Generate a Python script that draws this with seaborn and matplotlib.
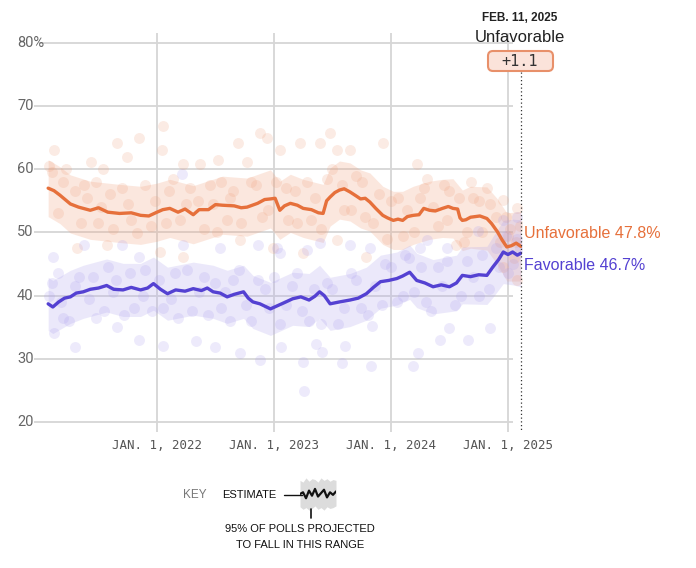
import matplotlib
matplotlib.use("Agg")
import matplotlib.pyplot as plt
import seaborn as sns
from matplotlib.patches import FancyBboxPatch
from matplotlib.lines import Line2D
from matplotlib.transforms import IdentityTransform, blended_transform_factory

# ---------------- data (decimal years, percent) ----------------
unfav_t = [2021.07, 2021.12, 2021.17, 2021.26, 2021.33, 2021.43, 2021.50, 2021.58, 2021.68, 2021.78,
           2021.86, 2021.93, 2022.00, 2022.05, 2022.11, 2022.18, 2022.24, 2022.31, 2022.36, 2022.44,
           2022.50, 2022.56, 2022.66, 2022.72, 2022.77, 2022.86, 2022.92, 2022.97, 2023.01, 2023.05,
           2023.09, 2023.14, 2023.20, 2023.25, 2023.32, 2023.38, 2023.42, 2023.45, 2023.48, 2023.52,
           2023.56, 2023.60, 2023.65, 2023.70, 2023.74, 2023.78, 2023.82, 2023.87, 2023.93, 2023.97,
           2024.02, 2024.06, 2024.10, 2024.14, 2024.19, 2024.24, 2024.28, 2024.33, 2024.38, 2024.44,
           2024.49, 2024.53, 2024.57, 2024.59, 2024.61, 2024.64, 2024.68, 2024.72, 2024.76, 2024.82,
           2024.86, 2024.91, 2024.95, 2024.99, 2025.03, 2025.07, 2025.11]
unfav = [57.0, 56.6, 55.9, 54.5, 54.0, 53.5, 53.9, 53.2, 53.0, 53.1,
         52.7, 52.6, 53.2, 53.6, 53.8, 53.2, 53.7, 52.8, 53.6, 53.6,
         54.4, 54.3, 54.2, 53.9, 54.0, 54.6, 55.2, 55.3, 55.4, 53.5,
         54.2, 54.6, 54.3, 53.8, 53.6, 53.1, 53.0, 55.0, 55.6, 56.3,
         56.7, 56.9, 56.4, 55.8, 55.3, 55.4, 54.8, 53.8, 52.7, 52.3,
         51.9, 52.1, 51.9, 52.5, 52.7, 52.8, 53.8, 53.5, 53.4, 53.8,
         54.1, 53.8, 53.7, 52.3, 51.9, 52.0, 52.4, 52.5, 52.6, 52.2,
         51.4, 50.1, 48.8, 47.7, 47.9, 48.3, 47.8]

unfav_band_t = [2021.07, 2021.17, 2021.26, 2021.43, 2021.68, 2021.86, 2022.00, 2022.11, 2022.31, 2022.56,
                2022.77, 2022.97, 2023.05, 2023.14, 2023.25, 2023.42, 2023.48, 2023.56, 2023.65, 2023.74,
                2023.82, 2023.93, 2024.02, 2024.10, 2024.19, 2024.33, 2024.44, 2024.53, 2024.61, 2024.68,
                2024.82, 2024.91, 2024.99, 2025.11]
unfav_band_lo = [52.5, 51.4, 49.9, 48.9, 48.4, 48.1, 48.6, 49.2, 48.2, 49.7,
                 49.4, 50.7, 48.9, 50.0, 49.2, 48.4, 51.0, 52.1, 51.8, 50.7,
                 50.2, 48.1, 47.3, 47.3, 48.1, 48.9, 49.2, 49.1, 47.1, 47.5,
                 47.2, 44.9, 42.3, 42.3]
unfav_band_hi = [61.5, 60.4, 59.1, 58.1, 57.6, 57.3, 57.8, 58.4, 57.4, 58.9,
                 58.6, 59.9, 58.1, 59.2, 58.4, 57.6, 60.2, 61.3, 61.0, 59.9,
                 59.4, 57.3, 56.5, 56.5, 57.3, 58.1, 58.4, 58.5, 56.7, 57.3,
                 57.2, 55.3, 53.1, 53.3]

fav_t = [2021.07, 2021.11, 2021.16, 2021.21, 2021.26, 2021.31, 2021.37, 2021.43, 2021.50, 2021.57,
         2021.63, 2021.71, 2021.78, 2021.86, 2021.92, 2021.97, 2022.03, 2022.09, 2022.16, 2022.24,
         2022.31, 2022.38, 2022.43, 2022.48, 2022.54, 2022.60, 2022.66, 2022.74, 2022.78, 2022.82,
         2022.88, 2022.97, 2023.03, 2023.09, 2023.16, 2023.23, 2023.30, 2023.35, 2023.39, 2023.43,
         2023.48, 2023.56, 2023.65, 2023.72, 2023.79, 2023.85, 2023.91, 2023.98, 2024.05, 2024.10,
         2024.16, 2024.22, 2024.29, 2024.36, 2024.43, 2024.50, 2024.56, 2024.61, 2024.68, 2024.75,
         2024.82, 2024.87, 2024.92, 2024.96, 2025.00, 2025.04, 2025.08, 2025.11]
fav = [38.7, 38.2, 39.0, 39.6, 39.8, 40.4, 40.6, 41.0, 41.2, 41.6,
       41.0, 40.9, 41.3, 40.9, 41.2, 41.9, 41.0, 40.3, 40.9, 40.7,
       41.1, 40.8, 41.2, 40.6, 40.4, 39.8, 40.2, 40.6, 39.6, 39.0,
       38.7, 37.9, 38.4, 38.9, 39.5, 39.8, 39.3, 39.9, 40.6, 40.0,
       38.7, 39.0, 39.3, 39.6, 40.3, 41.3, 42.2, 42.4, 42.7, 43.1,
       43.7, 42.4, 42.0, 41.4, 41.7, 41.4, 42.0, 43.2, 43.0, 43.3,
       43.2, 44.5, 45.7, 46.9, 46.5, 46.9, 46.4, 46.7]

fav_band_t = [2021.07, 2021.11, 2021.26, 2021.37, 2021.57, 2021.71, 2021.86, 2021.97, 2022.09, 2022.31,
              2022.48, 2022.60, 2022.74, 2022.82, 2022.97, 2023.16, 2023.30, 2023.39, 2023.48, 2023.65,
              2023.79, 2023.91, 2024.05, 2024.16, 2024.22, 2024.36, 2024.56, 2024.61, 2024.82, 2024.87,
              2024.96, 2025.04, 2025.11]
fav_band_lo = [34.5, 34.0, 35.6, 36.4, 37.4, 36.7, 36.7, 37.7, 36.1, 36.9,
               36.4, 35.6, 36.4, 34.8, 33.7, 35.3, 35.1, 36.4, 34.5, 35.1,
               36.1, 38.0, 38.5, 39.4, 38.1, 37.1, 37.6, 38.7, 38.6, 39.7,
               41.9, 41.7, 41.4]
fav_band_hi = [42.9, 42.4, 44.0, 44.8, 45.8, 45.1, 45.1, 46.1, 44.5, 45.3,
               44.8, 44.0, 44.8, 43.2, 42.1, 43.7, 43.5, 44.8, 42.9, 43.5,
               44.5, 46.4, 46.9, 48.0, 46.7, 45.7, 46.4, 47.7, 47.8, 49.3,
               51.9, 52.1, 52.0]

unfav_poll_t = [2021.12, 2021.44, 2021.54, 2021.66, 2021.74, 2021.85, 2022.05, 2022.04, 2022.22, 2022.37,
                2022.52, 2022.69, 2022.88, 2022.94, 2022.77, 2021.32, 2021.57, 2021.83, 2022.22, 2022.71,
                2022.99, 2022.51, 2022.03, 2023.48, 2023.22, 2023.39, 2023.54, 2023.65, 2023.93, 2023.05,
                2024.22, 2024.31, 2024.68, 2024.82, 2024.96, 2025.08, 2023.54, 2023.79, 2023.25, 2024.56,
                2024.96, 2025.08,
                2021.10, 2021.20, 2021.30, 2021.40, 2021.50, 2021.60, 2021.75, 2021.95, 2022.10, 2022.20,
                2022.35, 2022.45, 2022.60, 2022.65, 2022.85, 2022.90, 2023.10, 2023.20, 2023.35, 2023.45,
                2023.60, 2023.70, 2023.85, 2024.00, 2024.10, 2024.25, 2024.40, 2024.50, 2024.65, 2024.75,
                2024.90, 2025.00, 2025.05,
                2021.08, 2021.15, 2021.22, 2021.35, 2021.38, 2021.48, 2021.52, 2021.62, 2021.70, 2021.78,
                2021.90, 2021.98, 2022.08, 2022.14, 2022.25, 2022.28, 2022.40, 2022.48, 2022.55, 2022.62,
                2022.72, 2022.80, 2022.95, 2023.02, 2023.12, 2023.18, 2023.28, 2023.32, 2023.40, 2023.50,
                2023.58, 2023.66, 2023.75, 2023.78, 2023.90, 2023.97, 2024.06, 2024.14, 2024.20, 2024.28,
                2024.36, 2024.45, 2024.48, 2024.58, 2024.62, 2024.70, 2024.78, 2024.85, 2024.93, 2024.98,
                2025.02, 2025.07, 2025.10]
unfav_poll_v = [63.0, 61.1, 60.0, 64.1, 61.9, 64.9, 66.9, 63.0, 60.9, 60.9,
                61.4, 64.1, 65.8, 65.0, 61.1, 47.6, 48.0, 49.9, 46.1, 48.8,
                47.6, 50.0, 46.9, 65.8, 64.1, 64.1, 63.0, 63.0, 64.1, 63.0,
                60.9, 58.5, 57.9, 57.0, 55.1, 53.8, 48.8, 46.1, 46.7, 48.0,
                44.5, 42.4,
                59.5, 58.0, 56.5, 55.5, 51.5, 56.0, 54.5, 51.0, 56.5, 52.0,
                55.0, 57.5, 52.0, 56.5, 57.5, 52.5, 57.0, 51.5, 55.5, 58.5,
                53.5, 59.0, 51.5, 55.0, 49.5, 55.5, 51.0, 56.5, 50.0, 55.0,
                52.5, 49.5, 46.0,
                60.5, 53.0, 60.0, 51.5, 57.5, 58.0, 54.0, 50.5, 57.0, 52.0,
                57.5, 55.0, 51.5, 58.5, 54.5, 57.0, 50.5, 54.5, 58.0, 55.5,
                51.5, 58.0, 53.5, 58.0, 52.0, 56.5, 58.0, 52.0, 50.5, 60.0,
                57.5, 53.5, 58.0, 52.5, 56.0, 49.0, 55.5, 53.5, 50.0, 57.0,
                54.0, 57.5, 52.0, 55.5, 48.5, 55.5, 50.0, 54.5, 48.5, 52.5,
                50.5, 48.5, 51.0]

fav_poll_t = [2021.11, 2021.38, 2021.70, 2021.85, 2022.21, 2022.22, 2022.54, 2022.86, 2023.03, 2023.05,
              2023.28, 2023.39, 2023.65, 2023.82, 2024.25, 2024.31, 2024.48, 2024.74, 2024.96, 2025.08,
              2021.12, 2021.30, 2021.66, 2021.85, 2022.05, 2022.33, 2022.50, 2022.71, 2022.88, 2023.06,
              2023.25, 2023.26, 2023.36, 2023.41, 2023.58, 2023.61, 2023.83, 2023.84, 2024.19, 2024.23,
              2024.42, 2024.66, 2024.85, 2024.50,
              2021.10, 2021.20, 2021.30, 2021.45, 2021.55, 2021.65, 2021.80, 2021.90, 2022.05, 2022.15,
              2022.30, 2022.40, 2022.55, 2022.65, 2022.80, 2022.92, 2023.05, 2023.15, 2023.30, 2023.45,
              2023.55, 2023.70, 2023.80, 2023.95, 2024.05, 2024.15, 2024.30, 2024.40, 2024.55, 2024.65,
              2024.75, 2024.90, 2025.00, 2025.08,
              2021.08, 2021.15, 2021.18, 2021.25, 2021.33, 2021.42, 2021.48, 2021.58, 2021.62, 2021.72,
              2021.77, 2021.88, 2021.96, 2022.02, 2022.12, 2022.18, 2022.26, 2022.36, 2022.44, 2022.50,
              2022.58, 2022.62, 2022.70, 2022.76, 2022.86, 2022.96, 2023.00, 2023.10, 2023.20, 2023.24,
              2023.34, 2023.40, 2023.50, 2023.60, 2023.66, 2023.74, 2023.86, 2023.92, 2024.00, 2024.10,
              2024.12, 2024.20, 2024.26, 2024.34, 2024.44, 2024.48, 2024.60, 2024.70, 2024.78, 2024.84,
              2024.92, 2024.98, 2025.04, 2025.10]
fav_poll_v = [46.1, 48.0, 48.0, 46.1, 59.3, 48.0, 47.6, 48.0, 47.6, 46.7,
              47.2, 48.3, 48.0, 47.6, 47.6, 48.8, 47.6, 50.3, 51.9, 52.4,
              34.1, 31.8, 35.0, 33.0, 32.0, 32.8, 31.8, 30.9, 29.8, 31.8,
              29.5, 24.9, 32.3, 31.1, 29.3, 32.0, 28.8, 35.2, 28.8, 30.9,
              33.0, 33.0, 34.9, 34.9,
              42.0, 36.5, 41.5, 43.0, 37.5, 42.5, 38.0, 44.0, 38.0, 43.5,
              37.5, 43.0, 38.0, 42.5, 36.0, 41.0, 35.5, 41.5, 36.0, 42.0,
              35.5, 42.5, 37.0, 45.0, 39.0, 46.0, 39.0, 44.5, 38.5, 45.5,
              40.0, 47.5, 43.5, 49.0,
              40.0, 43.5, 39.0, 36.0, 43.0, 39.5, 36.5, 44.5, 40.5, 37.0,
              43.5, 40.0, 37.5, 42.5, 39.5, 36.5, 44.0, 40.5, 37.0, 42.0,
              40.5, 36.0, 44.0, 38.5, 42.5, 38.0, 43.0, 38.5, 43.5, 37.5,
              41.0, 35.5, 41.0, 38.0, 43.5, 38.0, 41.5, 38.5, 44.5, 40.0,
              46.5, 40.5, 44.5, 37.5, 41.5, 45.5, 40.0, 43.0, 46.5, 41.0,
              44.5, 49.5, 45.0, 47.5]

y_ticks = [20, 30, 40, 50, 60, 70, 80]
y_labels = ["20", "30", "40", "50", "60", "70", "80%"]
x_ticks = [2022, 2023, 2024, 2025]
x_labels = ["JAN. 1, 2022", "JAN. 1, 2023", "JAN. 1, 2024", "JAN. 1, 2025"]

key_x = [0, 1, 2, 3, 4, 5, 6, 7, 8, 9, 10, 11, 12]
key_mid = [0.0, 0.1, -0.25, 0.2, -0.1, 0.3, -0.15, 0.05, 0.25, -0.2, 0.1, -0.05, 0.15]
key_lo = [-0.75, -0.9, -0.8, -0.95, -0.85, -0.7, -0.9, -0.8, -0.95, -0.75, -0.85, -0.8, -0.7]
key_hi = [0.8, 0.7, 0.95, 0.75, 0.9, 0.85, 0.7, 0.95, 0.8, 0.9, 0.75, 0.85, 0.8]

ORANGE = "#E6703B"
PURPLE = "#5441D2"

# ---------------- figure ----------------
sns.set_theme(style="white")
plt.rcParams['font.family'] = ['Liberation Sans', 'DejaVu Sans']

W, H = 696, 568
fig = plt.figure(figsize=(W / 100, H / 100), dpi=100)
ax = fig.add_axes([34 / W, 1 - 432 / H, (522 - 34) / W, (432 - 33) / H])
ax.set_xlim(2020.949, 2025.120)
ax.set_ylim(18.42, 81.55)
for s in ax.spines.values():
    s.set_visible(False)

# grid
for v in y_ticks:
    start = 2020.991 if v == 80 else 2020.949
    ax.hlines(v, start, 2025.045, color="#d6d6d6", lw=1.3, zorder=0)
ax.vlines(x_ticks, 18.42, 81.55, color="#d6d6d6", lw=1.3, zorder=0)

# bands
ax.fill_between(unfav_band_t, unfav_band_lo, unfav_band_hi,
                color="#F2A583", alpha=0.26, lw=0, zorder=1)
ax.fill_between(fav_band_t, fav_band_lo, fav_band_hi,
                color="#B3A9EE", alpha=0.26, lw=0, zorder=1)

# polls
sns.scatterplot(x=unfav_poll_t, y=unfav_poll_v, s=62, color="#EE9E7A", alpha=0.2,
                linewidth=0, ax=ax, zorder=2)
sns.scatterplot(x=fav_poll_t, y=fav_poll_v, s=62, color="#A79AEE", alpha=0.2,
                linewidth=0, ax=ax, zorder=2)

# trend lines
sns.lineplot(x=unfav_t, y=unfav, color=ORANGE, lw=2.4, ax=ax, zorder=3)
sns.lineplot(x=fav_t, y=fav, color=PURPLE, lw=2.4, ax=ax, zorder=3)

# ticks
ax.set_xticks(x_ticks)
ax.set_xticklabels(x_labels, fontfamily="DejaVu Sans Mono", fontsize=9, color="#555555")
ax.tick_params(axis="x", length=0, pad=5)
ax.set_yticks([])
ax.set_xlabel("")
ax.set_ylabel("")
ytr = blended_transform_factory(fig.transFigure, ax.transData)
for v, lab in zip(y_ticks, y_labels):
    ax.text(17 / W, v, lab, transform=ytr, ha="left", va="center",
            fontsize=10.5, color="#666666", fontfamily="Roboto")

# current-date marker
ax.plot([2025.112, 2025.112], [75.4, 18.7], ls=(0, (1, 2)), color="#333333",
        lw=0.9, clip_on=False, zorder=4)

# end labels
ax.text(2025.137, 49.85, "Unfavorable 47.8%", color=ORANGE, fontsize=11.5,
        ha="left", va="center", clip_on=False)
ax.text(2025.137, 44.7, "Favorable 46.7%", color=PURPLE, fontsize=11.5,
        ha="left", va="center", clip_on=False)

# top annotation
fig.text(520 / W, 1 - 18 / H, "FEB. 11, 2025", ha="center", va="center",
         fontsize=8.5, fontweight="bold", color="#222222")
fig.text(520 / W, 1 - 38 / H, "Unfavorable", ha="center", va="center",
         fontsize=12, color="#222222")
box = FancyBboxPatch((488, H - 71), 65, 20, boxstyle="round,pad=0,rounding_size=5",
                     transform=IdentityTransform(), facecolor="#FBE3DA",
                     edgecolor="#E8906A", lw=1.5)
fig.add_artist(box)
fig.text(520 / W, 1 - 61 / H, "+1.1", ha="center", va="center",
         fontsize=11, color="#333333", fontfamily="DejaVu Sans Mono")

# key
fig.text(183 / W, 1 - 495 / H, "KEY", ha="left", va="center", fontsize=8.5,
         color="#777777")
fig.text(222 / W, 1 - 495 / H, "ESTIMATE", ha="left", va="center", fontsize=8,
         color="#111111")
fig.add_artist(Line2D([284, 302], [H - 495, H - 495], color="#111111", lw=1,
                      transform=IdentityTransform()))
fig.add_artist(Line2D([311, 311], [H - 509, H - 518], color="#111111", lw=1.2,
                      transform=IdentityTransform()))
axk = fig.add_axes([300 / W, 1 - 511 / H, 36 / W, 34 / H])
axk.fill_between(key_x, key_lo, key_hi, color="#dcdcdc", lw=0)
axk.plot(key_x, key_mid, color="#111111", lw=1.6)
axk.set_xlim(0, 12)
axk.set_ylim(-1, 1)
axk.axis("off")
fig.text(300 / W, 1 - 529 / H, "95% OF POLLS PROJECTED", ha="center", va="center",
         fontsize=8, color="#111111")
fig.text(300 / W, 1 - 545 / H, "TO FALL IN THIS RANGE", ha="center", va="center",
         fontsize=8, color="#111111")

fig.savefig("out.png", dpi=100)
